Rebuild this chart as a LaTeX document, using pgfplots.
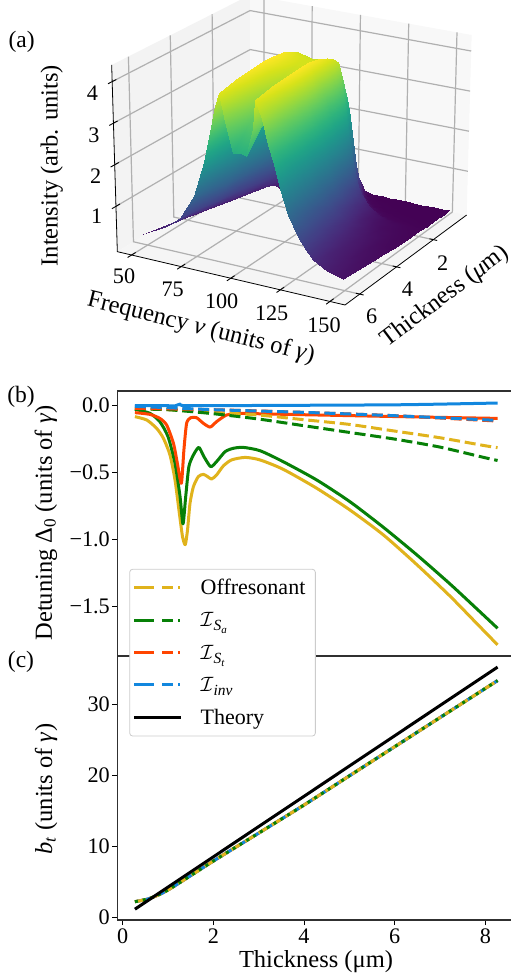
\documentclass[border=0pt]{standalone}
\usepackage{fontspec}
\usepackage{pgfplots}
\usepackage{pgfplotstable}
\pgfplotsset{compat=1.18}
\setmainfont{Liberation Serif}
\newcommand\fa{\fontsize{24.5}{28}\selectfont}
\newcommand\ft{\fontsize{22.2}{26}\selectfont}
\newcommand\fl{\fontsize{22}{26}\selectfont}
\newcommand\fp{\fontsize{23.5}{28}\selectfont}
\newcommand\sub[1]{\raisebox{-4pt}{\fontsize{15.5}{15.5}\selectfont\itshape #1}}
\newcommand\subsub[1]{\raisebox{-3pt}{\fontsize{11}{11}\selectfont\itshape #1}}
\definecolor{cy}{HTML}{E0B31C}
\definecolor{cg}{HTML}{078007}
\definecolor{cr}{HTML}{FF4500}
\definecolor{cb}{HTML}{1287DE}
\definecolor{gl}{HTML}{B0B0B0}
\definecolor{spine}{HTML}{303030}
\pgfplotstableread[row sep=\\]{
n t z\\
79 .37 .01\\ 79.35 .37 .01\\ 79.6 .37 .01\\ 79.85 .37 .01\\ 80 .37 .01\\ 83 .37 .02\\ 86 .37 .03\\ 88 .37 .05\\ 91 .37 .05\\ 94.5 .37 .05\\ 98 .37 .05\\ 101 .37 .05\\ 104.5 .37 .05\\ 106 .37 .05\\ 109 .37 .03\\ 112 .37 .02\\ 115 .37 .015\\ 118 .37 .01\\ 122 .37 .01\\ 127 .37 .01\\ 131 .37 .01\\ 135 .37 .01\\ 142 .37 .01\\ 146 .37 .01\\ 150 .37 .01\\
79.3 .6 .01\\ 79.55 .6 .01\\ 79.7 .6 .015\\ 79.9 .6 .015\\ 80 .6 .02\\ 83 .6 .04\\ 86 .6 .1\\ 88 .6 .2\\ 91 .6 .2\\ 94.5 .6 .2\\ 98 .6 .2\\ 101 .6 .2\\ 104.5 .6 .2\\ 106 .6 .2\\ 109 .6 .05\\ 112 .6 .02\\ 115 .6 .01\\ 118 .6 .01\\ 122 .6 .01\\ 127 .6 .01\\ 131 .6 .01\\ 135 .6 .01\\ 142 .6 .01\\ 146 .6 .01\\ 150 .6 .01\\
78.5 .82 .02\\ 79 .82 .02\\ 79.4 .82 .03\\ 79.75 .82 .03\\ 80 .82 .03\\ 83 .82 .08\\ 86 .82 .28\\ 88 .82 .58\\ 91 .82 .58\\ 94.5 .82 .58\\ 98 .82 .58\\ 101 .82 .58\\ 104.5 .82 .58\\ 106 .82 .58\\ 109 .82 .15\\ 112 .82 .05\\ 115 .82 .03\\ 118 .82 .02\\ 122 .82 .015\\ 127 .82 .01\\ 131 .82 .01\\ 135 .82 .01\\ 142 .82 .01\\ 146 .82 .01\\ 150 .82 .01\\
77.8 .95 .03\\ 78.6 .95 .03\\ 79.1 .95 .04\\ 79.65 .95 .05\\ 80 .95 .05\\ 83 .95 .14\\ 86 .95 .44\\ 88 .95 .92\\ 91 .95 .92\\ 94.5 .95 .92\\ 98 .95 .92\\ 101 .95 .92\\ 104.5 .95 .92\\ 106 .95 .92\\ 109 .95 .3\\ 112 .95 .08\\ 115 .95 .04\\ 118 .95 .03\\ 122 .95 .02\\ 127 .95 .015\\ 131 .95 .012\\ 135 .95 .01\\ 142 .95 .01\\ 146 .95 .01\\ 150 .95 .01\\
77 1.08 .04\\ 78 1.08 .05\\ 78.8 1.08 .05\\ 79.5 1.08 .07\\ 80 1.08 .07\\ 83 1.08 .21\\ 86 1.08 .62\\ 88 1.08 1.33\\ 91 1.08 1.33\\ 94.5 1.08 1.33\\ 98 1.08 1.33\\ 101 1.08 1.33\\ 104.5 1.08 1.33\\ 106 1.08 1.33\\ 109 1.08 .52\\ 112 1.08 .15\\ 115 1.08 .07\\ 118 1.08 .03\\ 122 1.08 .02\\ 127 1.08 .015\\ 131 1.08 .013\\ 135 1.08 .012\\ 142 1.08 .011\\ 146 1.08 .01\\ 150 1.08 .01\\
76.5 1.16 .06\\ 77.7 1.16 .07\\ 78.6 1.16 .08\\ 79.45 1.16 .12\\ 80 1.16 .13\\ 83 1.16 .31\\ 86 1.16 .9\\ 88 1.16 1.75\\ 91 1.16 1.75\\ 94.5 1.16 1.75\\ 98 1.16 1.75\\ 101 1.16 1.75\\ 104.5 1.16 1.75\\ 106 1.16 1.75\\ 109 1.16 .77\\ 112 1.16 .26\\ 115 1.16 .1\\ 118 1.16 .05\\ 122 1.16 .03\\ 127 1.16 .02\\ 131 1.16 .015\\ 135 1.16 .012\\ 142 1.16 .01\\ 146 1.16 .01\\ 150 1.16 .01\\
76 1.25 .08\\ 77.4 1.25 .1\\ 78.4 1.25 .11\\ 79.4 1.25 .18\\ 80 1.25 .2\\ 83 1.25 .42\\ 86 1.25 1.23\\ 88 1.25 2.2\\ 91 1.25 2.2\\ 94.5 1.25 2.2\\ 98 1.25 2.2\\ 101 1.25 2.2\\ 104.5 1.25 2.2\\ 106 1.25 2.2\\ 109 1.25 1.06\\ 112 1.25 .37\\ 115 1.25 .17\\ 118 1.25 .08\\ 122 1.25 .03\\ 127 1.25 .02\\ 131 1.25 .017\\ 135 1.25 .015\\ 142 1.25 .012\\ 146 1.25 .011\\ 150 1.25 .01\\
75 1.4 .11\\ 76.75 1.4 .15\\ 78 1.4 .2\\ 79.2 1.4 .27\\ 80 1.4 .33\\ 83 1.4 .63\\ 86 1.4 1.6\\ 88 1.4 2.68\\ 91 1.4 2.68\\ 94.5 1.4 2.68\\ 98 1.4 2.68\\ 101 1.4 2.68\\ 104.5 1.4 2.68\\ 106 1.4 2.68\\ 109 1.4 1.5\\ 112 1.4 .62\\ 115 1.4 .27\\ 118 1.4 .15\\ 122 1.4 .07\\ 127 1.4 .035\\ 131 1.4 .025\\ 135 1.4 .02\\ 142 1.4 .015\\ 146 1.4 .012\\ 150 1.4 .012\\
74 1.58 .15\\ 76.1 1.58 .2\\ 77.7 1.58 .31\\ 79 1.58 .38\\ 80 1.58 .49\\ 83 1.58 .89\\ 86 1.58 2.03\\ 88 1.58 3.07\\ 91 1.58 3.06\\ 94.5 1.58 3.05\\ 98 1.58 3.05\\ 101 1.58 3.05\\ 104.5 1.58 3.06\\ 106 1.58 3.07\\ 109 1.58 1.9\\ 112 1.58 .86\\ 115 1.58 .43\\ 118 1.58 .23\\ 122 1.58 .12\\ 127 1.58 .055\\ 131 1.58 .04\\ 135 1.58 .03\\ 142 1.58 .02\\ 146 1.58 .017\\ 150 1.58 .015\\
73.2 1.73 .26\\ 75.6 1.73 .34\\ 77.4 1.73 .46\\ 78.9 1.73 .6\\ 80 1.73 .72\\ 83 1.73 1.25\\ 86 1.73 2.48\\ 88 1.73 3.42\\ 91 1.73 3.41\\ 94.5 1.73 3.39\\ 98 1.73 3.39\\ 101 1.73 3.39\\ 104.5 1.73 3.4\\ 106 1.73 3.42\\ 109 1.73 2.36\\ 112 1.73 1.33\\ 115 1.73 .72\\ 118 1.73 .41\\ 122 1.73 .22\\ 127 1.73 .1\\ 131 1.73 .06\\ 135 1.73 .045\\ 142 1.73 .03\\ 146 1.73 .025\\ 150 1.73 .02\\
72.5 1.9 .37\\ 75.1 1.9 .5\\ 77.1 1.9 .63\\ 78.8 1.9 .82\\ 80 1.9 .98\\ 83 1.9 1.65\\ 86 1.9 2.92\\ 88 1.9 3.75\\ 91 1.9 3.73\\ 94.5 1.9 3.7\\ 98 1.9 3.7\\ 101 1.9 3.7\\ 104.5 1.9 3.72\\ 106 1.9 3.75\\ 109 1.9 2.78\\ 112 1.9 1.8\\ 115 1.9 1.05\\ 118 1.9 .64\\ 122 1.9 .36\\ 127 1.9 .19\\ 131 1.9 .12\\ 135 1.9 .08\\ 142 1.9 .045\\ 146 1.9 .034\\ 150 1.9 .026\\
71 2.15 .37\\ 74.1 2.15 .52\\ 76.4 2.15 .68\\ 78.6 2.15 .93\\ 80 2.15 1.13\\ 83 2.15 1.88\\ 86 2.15 3.1\\ 88 2.15 3.9\\ 91 2.15 3.86\\ 94.5 2.15 3.82\\ 98 2.15 3.82\\ 101 2.15 3.82\\ 104.5 2.15 3.85\\ 106 2.15 3.9\\ 109 2.15 2.96\\ 112 2.15 2.03\\ 115 2.15 1.25\\ 118 2.15 .78\\ 122 2.15 .45\\ 127 2.15 .25\\ 131 2.15 .15\\ 135 2.15 .11\\ 142 2.15 .06\\ 146 2.15 .045\\ 150 2.15 .035\\
69.3 2.47 .36\\ 73 2.47 .54\\ 75.8 2.47 .72\\ 78.3 2.47 1.04\\ 80 2.47 1.28\\ 83 2.47 2.12\\ 86 2.47 3.28\\ 88 2.47 4\\ 91 2.47 3.94\\ 94.5 2.47 3.88\\ 98 2.47 3.88\\ 101 2.47 3.88\\ 104.5 2.47 3.94\\ 106 2.47 4\\ 109 2.47 3.12\\ 112 2.47 2.2\\ 115 2.47 1.44\\ 118 2.47 .92\\ 122 2.47 .52\\ 127 2.47 .28\\ 131 2.47 .19\\ 135 2.47 .12\\ 142 2.47 .08\\ 146 2.47 .055\\ 150 2.47 .04\\
66.7 2.9 .35\\ 71.4 2.9 .54\\ 74.8 2.9 .76\\ 77.9 2.9 1.12\\ 80 2.9 1.45\\ 83 2.9 2.3\\ 86 2.9 3.45\\ 88 2.9 4.1\\ 91 2.9 3.99\\ 94.5 2.9 3.88\\ 98 2.9 3.88\\ 101 2.9 3.88\\ 104.5 2.9 3.98\\ 106 2.9 4.1\\ 109 2.9 3.28\\ 112 2.9 2.45\\ 115 2.9 1.65\\ 118 2.9 1.1\\ 122 2.9 .65\\ 127 2.9 .37\\ 131 2.9 .25\\ 135 2.9 .17\\ 142 2.9 .1\\ 146 2.9 .07\\ 150 2.9 .055\\
64 3.4 .33\\ 69.6 3.4 .54\\ 73.8 3.4 .79\\ 77.4 3.4 1.2\\ 80 3.4 1.62\\ 83 3.4 2.49\\ 86 3.4 3.57\\ 88 3.4 4.15\\ 91 3.4 3.98\\ 94.5 3.4 3.8\\ 98 3.4 3.81\\ 101 3.4 3.8\\ 104.5 3.4 3.97\\ 106 3.4 4.15\\ 109 3.4 3.44\\ 112 3.4 2.7\\ 115 3.4 1.87\\ 118 3.4 1.29\\ 122 3.4 .79\\ 127 3.4 .48\\ 131 3.4 .33\\ 135 3.4 .23\\ 142 3.4 .12\\ 146 3.4 .09\\ 150 3.4 .07\\
61 3.9 .3\\ 67.6 3.9 .53\\ 72.5 3.9 .78\\ 76.9 3.9 1.24\\ 80 3.9 1.78\\ 83 3.9 2.6\\ 86 3.9 3.65\\ 88 3.9 4.15\\ 91 3.9 3.9\\ 94.5 3.9 3.65\\ 98 3.9 3.67\\ 101 3.9 3.65\\ 104.5 3.9 3.88\\ 106 3.9 4.15\\ 109 3.9 3.52\\ 112 3.9 2.8\\ 115 3.9 2.03\\ 118 3.9 1.45\\ 122 3.9 .93\\ 127 3.9 .57\\ 131 3.9 .4\\ 135 3.9 .28\\ 142 3.9 .155\\ 146 3.9 .12\\ 150 3.9 .095\\
58 4.5 .27\\ 65.7 4.5 .52\\ 71.4 4.5 .78\\ 76.5 4.5 1.28\\ 80 4.5 1.94\\ 83 4.5 2.72\\ 86 4.5 3.71\\ 88 4.5 4.12\\ 91 4.5 3.78\\ 94.5 4.5 3.42\\ 98 4.5 3.44\\ 101 4.5 3.42\\ 104.5 4.5 3.76\\ 106 4.5 4.12\\ 109 4.5 3.58\\ 112 4.5 2.88\\ 115 4.5 2.18\\ 118 4.5 1.61\\ 122 4.5 1.07\\ 127 4.5 .66\\ 131 4.5 .47\\ 135 4.5 .33\\ 142 4.5 .19\\ 146 4.5 .15\\ 150 4.5 .12\\
53.5 5.3 .24\\ 62.8 5.3 .51\\ 69.7 5.3 .81\\ 75.8 5.3 1.34\\ 80 5.3 2.15\\ 83 5.3 2.84\\ 86 5.3 3.69\\ 88 5.3 4.05\\ 91 5.3 3.57\\ 94.5 5.3 3.05\\ 98 5.3 3.08\\ 101 5.3 3.05\\ 104.5 5.3 3.53\\ 106 5.3 4.05\\ 109 5.3 3.6\\ 112 5.3 2.96\\ 115 5.3 2.35\\ 118 5.3 1.82\\ 122 5.3 1.22\\ 127 5.3 .81\\ 131 5.3 .57\\ 135 5.3 .4\\ 142 5.3 .26\\ 146 5.3 .2\\ 150 5.3 .16\\
49 6.1 .2\\ 59.9 6.1 .49\\ 67.9 6.1 .79\\ 75 6.1 1.38\\ 80 6.1 2.25\\ 83 6.1 2.88\\ 86 6.1 3.63\\ 88 6.1 3.95\\ 91 6.1 3.3\\ 94.5 6.1 2.6\\ 98 6.1 2.64\\ 101 6.1 2.6\\ 104.5 6.1 3.25\\ 106 6.1 3.95\\ 109 6.1 3.55\\ 112 6.1 2.96\\ 115 6.1 2.53\\ 118 6.1 1.98\\ 122 6.1 1.42\\ 127 6.1 .95\\ 131 6.1 .69\\ 135 6.1 .5\\ 142 6.1 .32\\ 146 6.1 .25\\ 150 6.1 .2\\
}\surfdata
\pgfplotsset{
 table/pj/.style={x expr={px(\thisrow{n},\thisrow{t},\thisrow{z})},y expr={py(\thisrow{n},\thisrow{t},\thisrow{z})},row sep=\\},
 p2/.style={axis line style={spine,line width=1.1pt},tick style={black,line width=.9pt},major tick length=5pt,
   tick align=outside,xtick pos=bottom,ytick pos=left,scale only axis,
   tick label style={font=\ft},clip=false,
   width=397.3pt,xmin=-0.1147,xmax=8.65,
   yticklabel style={inner sep=0pt,xshift=-2.5pt},
   xticklabel style={inner sep=0pt,yshift=-4pt},
   every axis plot/.append style={line width=3pt,line join=round},
   sol/.style={smooth,tension=.4},
   dsh/.style={smooth,tension=.4,dash pattern=on 11pt off 4.8pt}},
}
\begin{document}
\begin{tikzpicture}[x=1pt,y=1pt]
\path[use as bounding box] (0,0) rectangle (511,978);
% ---------------- panel (a)
\begin{axis}[at={(0pt,598pt)},anchor=south west,scale only axis,width=511pt,height=380pt,
 xmin=0,xmax=1533,ymin=-1140,ymax=0,hide axis,
 declare function={
  uu(\xn)=(\xn-42.8)/114.8;
  vv(\xt)=(6.8-\xt)/6.61;
  ww(\xz)=(\xz+0.09)/4.49;
  pxa(\xu,\xv,\xw)=(1-\xw)*((1-\xv)*((1-\xu)*352+\xu*1035)+\xv*((1-\xu)*752+\xu*1400))+\xw*((1-\xv)*((1-\xu)*335+\xu*1043)+\xv*((1-\xu)*750+\xu*1415));
  pya(\xu,\xv,\xw)=(1-\xw)*((1-\xv)*((1-\xu)*(-755)+\xu*(-915))+\xv*((1-\xu)*(-510)+\xu*(-645)))+\xw*((1-\xv)*((1-\xu)*(-195)+\xu*(-325))+\xv*((1-\xu)*15+\xu*(-105)));
  px(\xn,\xt,\xz)=pxa(uu(\xn),vv(\xt),ww(\xz));
  py(\xn,\xt,\xz)=pya(uu(\xn),vv(\xt),ww(\xz));
 }]
% panes
\addplot[fill={rgb,255:red,243;green,243;blue,243},draw=none] table[pj] {n t z\\ 42.8 6.8 -.09\\ 42.8 .19 -.09\\ 42.8 .19 4.4\\ 42.8 6.8 4.4\\ 42.8 6.8 -.09\\};
\addplot[fill={rgb,255:red,248;green,248;blue,248},draw=none] table[pj] {n t z\\ 42.8 .19 -.09\\ 157.6 .19 -.09\\ 157.6 .19 4.4\\ 42.8 .19 4.4\\ 42.8 .19 -.09\\};
\addplot[fill={rgb,255:red,245;green,245;blue,245},draw=none] table[pj] {n t z\\ 42.8 6.8 -.09\\ 157.6 6.8 -.09\\ 157.6 .19 -.09\\ 42.8 .19 -.09\\ 42.8 6.8 -.09\\};
% grid
\pgfplotsinvokeforeach{50,75,100,125,150}{
 \addplot[gl,line width=1.2pt] table[pj] {n t z\\ #1 6.8 -.09\\ #1 .19 -.09\\ #1 .19 4.4\\};
}
\pgfplotsinvokeforeach{2,4,6}{
 \addplot[gl,line width=1.2pt] table[pj] {n t z\\ 157.6 #1 -.09\\ 42.8 #1 -.09\\ 42.8 #1 4.4\\};
}
\pgfplotsinvokeforeach{1,2,3,4}{
 \addplot[gl,line width=1.2pt] table[pj] {n t z\\ 42.8 6.8 #1\\ 42.8 .19 #1\\ 157.6 .19 #1\\};
}
% surface
\addplot[surf,shader=interp,z buffer=none,colormap name=viridis,mesh/rows=19,mesh/cols=25,
  point meta=\thisrow{z},point meta min=0,point meta max=4.15]
  table[x expr={px(\thisrow{n},\thisrow{t},\thisrow{z})},y expr={py(\thisrow{n},\thisrow{t},\thisrow{z})}] {\surfdata};
% axis lines and ticks
\addplot[black,line width=.8pt] table[pj] {n t z\\ 42.8 6.8 4.4\\ 42.8 6.8 -.09\\ 157.6 6.8 -.09\\ 157.6 .19 -.09\\};
\pgfplotsinvokeforeach{50,75,100,125,150}{
 \addplot[black,line width=.9pt] table[pj] {n t z\\ #1 7.0 -.09\\ #1 6.6 -.09\\};
}
\pgfplotsinvokeforeach{2,4,6}{
 \addplot[black,line width=.9pt] table[pj] {n t z\\ 155.6 #1 -.09\\ 159.6 #1 -.09\\};
}
\pgfplotsinvokeforeach{1,2,3,4}{
 \addplot[black,line width=.9pt] table[pj] {n t z\\ 42.8 7.0 #1\\ 42.8 6.6 #1\\};
}
% texts
\node[font=\fp] at (axis cs:65,-125) {(a)};
\node[font=\ft] at (axis cs:277,-280) {4};
\node[font=\ft] at (axis cs:282,-405) {3};
\node[font=\ft] at (axis cs:287,-528) {2};
\node[font=\ft] at (axis cs:290,-650) {1};
\node[font=\ft] at (axis cs:372,-830) {50};
\node[font=\ft] at (axis cs:518,-868) {75};
\node[font=\ft] at (axis cs:665,-905) {100};
\node[font=\ft] at (axis cs:815,-940) {125};
\node[font=\ft] at (axis cs:972,-975) {150};
\node[font=\ft] at (axis cs:1328,-790) {2};
\node[font=\ft] at (axis cs:1222,-868) {4};
\node[font=\ft] at (axis cs:1115,-948) {6};
\node[font=\fa,rotate=90] at (axis cs:155,-497) {Intensity (arb. units)};
\node[font=\fa,rotate=-14] at (axis cs:603,-985) {Frequency \textit{ν} (units of \textit{γ})};
\node[font=\fa,rotate=37] at (axis cs:1335,-890) {Thickness (\textit{μ}m)};
\end{axis}
% ---------------- panel (b)
\begin{axis}[p2,at={(117.5pt,322pt)},anchor=south west,height=265pt,
 ymin=-1.8735,ymax=0.11,xtick=\empty,
 ytick={-1.5,-1,-0.5,0},yticklabels={−1.5,−1.0,−0.5,0.0},
 ylabel={Detuning Δ\textsubscript{0} (units of \textit{γ})},
 every axis y label/.style={at={(axis description cs:-0.18,0.502)},rotate=90,anchor=center,font=\fa}]
\addplot[cy,sol] coordinates {(.27,-.082)(.53,-.107)(.75,-.17)(.9,-.245)(1.044,-.37)(1.154,-.556)(1.25,-.806)(1.32,-.98)(1.38,-1.04)(1.43,-.93)(1.485,-.73)(1.56,-.606)(1.67,-.53)(1.78,-.514)(1.87,-.53)(1.96,-.549)(2.07,-.519)(2.22,-.451)(2.4,-.406)(2.7,-.387)(3.03,-.406)(3.54,-.476)(4.28,-.618)(5.01,-.78)(5.75,-.967)(6.49,-1.19)(7.22,-1.425)(7.81,-1.63)(8.27,-1.79)};
\addplot[cg,sol] coordinates {(.27,-.027)(.6,-.057)(.82,-.12)(1,-.232)(1.154,-.431)(1.265,-.68)(1.33,-.885)(1.39,-.68)(1.46,-.456)(1.56,-.369)(1.68,-.312)(1.79,-.38)(1.94,-.456)(2.07,-.419)(2.26,-.344)(2.44,-.319)(2.66,-.312)(3.03,-.337)(3.54,-.419)(4.28,-.556)(5.01,-.718)(5.75,-.91)(6.49,-1.117)(7.22,-1.334)(7.81,-1.52)(8.27,-1.666)};
\addplot[cr,sol] coordinates {(.27,-.052)(.6,-.065)(.82,-.095)(.97,-.145)(1.12,-.282)(1.206,-.431)(1.294,-.581)(1.35,-.332)(1.41,-.132)(1.5,-.09)(1.63,-.09)(1.78,-.132)(1.93,-.16)(2.07,-.12)(2.29,-.07)(2.59,-.057)(3.18,-.062)(4.65,-.072)(6.12,-.082)(8.27,-.095)};
\addplot[cb,sol] coordinates {(.27,0)(.97,0)(1.15,-.002)(1.265,.012)(1.41,0)(3.18,.002)(6.12,.007)(8.27,.02)};
\addplot[cy,dsh] coordinates {(.27,-.02)(1,-.03)(2,-.05)(3,-.07)(4,-.105)(5,-.14)(6,-.19)(7,-.24)(8,-.3)(8.27,-.314)};
\addplot[cg,dsh] coordinates {(.27,-.025)(1,-.03)(2,-.06)(3,-.1)(4,-.15)(5,-.2)(6,-.25)(7,-.31)(8,-.39)(8.27,-.41)};
\addplot[cr,dsh] coordinates {(.27,-.02)(2,-.03)(4,-.05)(6,-.075)(8.27,-.115)};
\addplot[cb,dsh] coordinates {(.27,-.005)(1,-.015)(2,-.03)(4,-.05)(6,-.075)(8.27,-.11)};
\end{axis}
\node[font=\fp] at (21,581) {(b)};
% ---------------- panel (c)
\begin{axis}[p2,at={(117.5pt,58pt)},anchor=south west,height=264pt,
 ymin=-0.323,ymax=36.81,
 xtick={0,2,4,6,8},xticklabels={0,2,4,6,8},
 ytick={0,10,20,30},yticklabels={0,10,20,30},
 xlabel={Thickness (μm)},ylabel={\textit{b}\textsubscript{\textit{t}} (units of \textit{γ})},
 every axis y label/.style={at={(axis description cs:-0.18,0.496)},rotate=90,anchor=center,font=\fa},
 every axis x label/.style={at={(axis description cs:0.4996,-0.158)},anchor=center,font=\fa},
 legend style={at={(axis description cs:0.0297,1.33)},anchor=north west,draw={rgb,255:red,204;green,204;blue,204},
   line width=.8pt,fill=white,rounded corners=3pt,font=\fl,row sep=12.5pt,inner xsep=3pt,inner ysep=8pt,
   nodes={inner sep=2pt}},
 legend cell align=left]
\addplot[cr,sol,forget plot] coordinates {(.27,2.25)(.6,2.72)(1,3.9)(2,7.97)(3,11.9)(4,15.85)(5,19.95)(6,24.05)(7,28.15)(8,32.25)(8.27,33.35)};
\addplot[cb,sol,forget plot] coordinates {(.27,2.25)(.6,2.72)(1,3.9)(2,7.97)(3,11.9)(4,15.85)(5,19.95)(6,24.05)(7,28.15)(8,32.25)(8.27,33.35)};
\addplot[cy,dsh,forget plot] coordinates {(.27,2.25)(.6,2.72)(1,3.9)(2,7.97)(3,11.9)(4,15.85)(5,19.95)(6,24.05)(7,28.15)(8,32.25)(8.27,33.35)};
\addplot[cg,sol,dash pattern=on 3pt off 5pt,forget plot] coordinates {(.27,2.25)(.6,2.72)(1,3.9)(2,7.97)(3,11.9)(4,15.85)(5,19.95)(6,24.05)(7,28.15)(8,32.25)(8.27,33.35)};
\addplot[black,forget plot] coordinates {(.27,1.2)(8.27,35.25)};
\addlegendimage{legend image code/.code={\draw[cy,line width=3pt] (0pt,0pt)--(20pt,0pt);\draw[cy,line width=3pt] (28pt,0pt)--(39pt,0pt);\draw[cy,line width=3pt] (44pt,0pt)--(46pt,0pt);}}
\addlegendentry{\hspace*{16pt}Offresonant\hspace*{5pt}}
\addlegendimage{legend image code/.code={\draw[cg,line width=3pt] (0pt,0pt)--(20pt,0pt);\draw[cg,line width=3pt] (28pt,0pt)--(39pt,0pt);\draw[cg,line width=3pt] (44pt,0pt)--(46pt,0pt);}}
\addlegendentry{\hspace*{16pt}$\mathcal{I}$\sub{S\subsub{a}}}
\addlegendimage{legend image code/.code={\draw[cr,line width=3pt] (0pt,0pt)--(20pt,0pt);\draw[cr,line width=3pt] (28pt,0pt)--(39pt,0pt);\draw[cr,line width=3pt] (44pt,0pt)--(46pt,0pt);}}
\addlegendentry{\hspace*{16pt}$\mathcal{I}$\sub{S\subsub{t}}}
\addlegendimage{legend image code/.code={\draw[cb,line width=3pt] (0pt,0pt)--(20pt,0pt);\draw[cb,line width=3pt] (28pt,0pt)--(39pt,0pt);\draw[cb,line width=3pt] (44pt,0pt)--(46pt,0pt);}}
\addlegendentry{\hspace*{16pt}$\mathcal{I}$\sub{inv}}
\addlegendimage{legend image code/.code={\draw[black,line width=3pt] (0pt,0pt)--(47pt,0pt);}}
\addlegendentry{\hspace*{16pt}Theory}
\end{axis}
\node[font=\fp] at (21,316) {(c)};
\end{tikzpicture}
\end{document}
